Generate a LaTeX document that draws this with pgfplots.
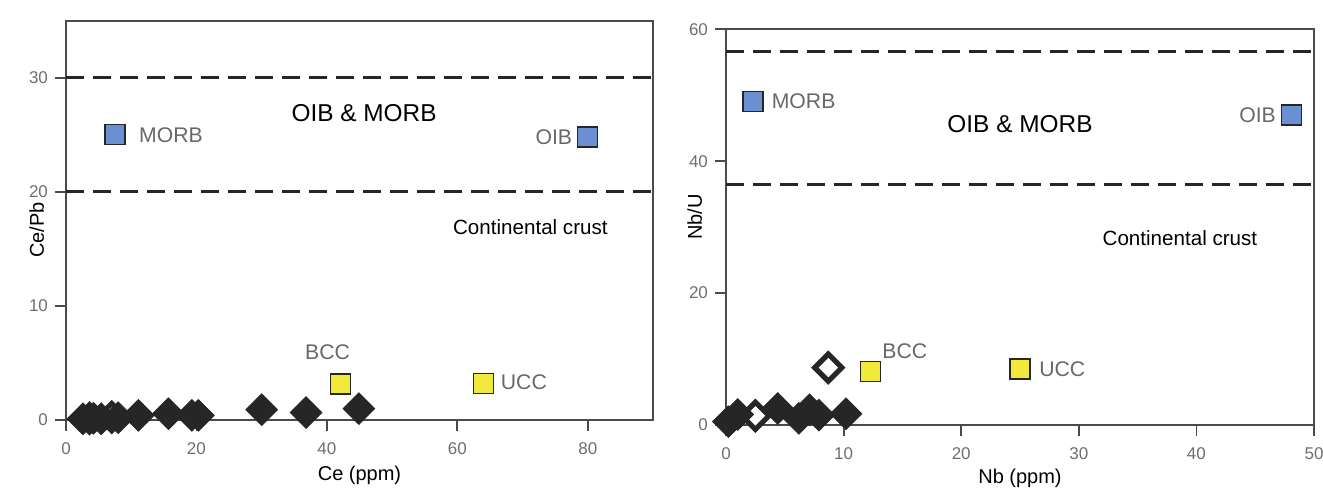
\documentclass[border=0pt]{standalone}
\usepackage{pgfplots}
\pgfplotsset{compat=1.18}
\usepackage{fontspec}
\setmainfont{Liberation Sans}
\definecolor{tickgray}{HTML}{6E6E6E}
\definecolor{lblgray}{HTML}{686868}
\definecolor{axgray}{HTML}{4A4A4A}
\definecolor{mblue}{HTML}{6A8FD2}
\definecolor{myellow}{HTML}{F2EA3A}
\definecolor{dk}{HTML}{262626}
\tikzset{
 glab/.style={font=\fontsize{10.6}{12}\selectfont, text=lblgray},
 blab/.style={font=\fontsize{12.2}{14}\selectfont, text=black},
 clab/.style={font=\fontsize{10.3}{12}\selectfont, text=black},
}
\pgfplotsset{
 mystyle/.style={
  scale only axis, clip=false,
  axis line style={axgray, line width=0.9pt},
  tick align=outside, xtick pos=bottom, ytick pos=left, major tick length=5.5pt,
  tick style={axgray, line width=0.9pt},
  /pgf/number format/assume math mode=true,
  ticklabel style={font=\fontsize{8.5}{10}\selectfont, text=tickgray},
  xticklabel style={yshift=-2.5pt},
  label style={font=\fontsize{10}{12}\selectfont, text=black},
 },
 dline/.style={dash pattern=on 9pt off 4.5pt, line width=1.5pt, color=dk, forget plot},
 bsq/.style={only marks, mark=square*, mark size=5pt, mark options={fill=mblue, draw=dk, line width=0.6pt}},
 ysq/.style={only marks, mark=square*, mark size=5pt, mark options={fill=myellow, draw=dk, line width=0.6pt}},
 fdia/.style={only marks, mark=square*, mark size=5.6pt, mark options={rotate=45, fill=dk, draw=dk, line width=0.4pt}},
 odia/.style={only marks, mark=square*, mark size=4.8pt, mark options={rotate=45, fill=white, draw=dk, line width=2.6pt}},
}
\begin{document}
\begin{tikzpicture}
\useasboundingbox (0,0) rectangle (661.5pt,249.5pt);
% ---------------- left panel ----------------
\begin{axis}[mystyle, at={(33pt,39.5pt)}, anchor=south west,
  width=293.5pt, height=199.7pt,
  xmin=0, xmax=90, ymin=0, ymax=35,
  xtick={0,20,40,60,80}, ytick={0,10,20,30},
  xlabel={Ce (ppm)}, ylabel={Ce/Pb},
  xlabel style={at={(axis description cs:0.5,-0.1377)}, anchor=center},
  ylabel style={at={(axis description cs:-0.05,0.476)}, anchor=center}]
\addplot[dline] coordinates {(0,30) (90,30)};
\addplot[dline] coordinates {(0,20) (90,20)};
\addplot[bsq] coordinates {(7.5,25) (80,24.8)};
\addplot[ysq] coordinates {(42.1,3.15) (64,3.2)};
\addplot[odia] coordinates {(3.6,0.15) (7.0,0.25)};
\addplot[fdia] coordinates {(2.6,0.1) (4.2,0.15) (5.4,0.1) (8.0,0.2) (11.1,0.4) (15.7,0.55) (19.3,0.4) (20.3,0.4) (30,0.9) (36.8,0.65) (44.9,1.0)};
\node[blab] at (axis cs:45.7,26.9) {OIB \& MORB};
\node[clab] at (axis cs:71.2,16.9) {Continental crust};
\node[glab] at (axis cs:16.1,25) {MORB};
\node[glab] at (axis cs:74.8,24.8) {OIB};
\node[glab] at (axis cs:40.1,5.9) {BCC};
\node[glab] at (axis cs:70.2,3.3) {UCC};
\end{axis}
% ---------------- right panel ----------------
\begin{axis}[mystyle, at={(363pt,37pt)}, anchor=south west,
  width=294pt, height=197.85pt,
  xmin=0, xmax=50, ymin=0, ymax=60,
  xtick={0,10,20,30,40,50}, ytick={0,20,40,60},
  xlabel={Nb (ppm)}, ylabel={Nb/U},
  xlabel style={at={(axis description cs:0.5,-0.134)}, anchor=center},
  ylabel style={at={(axis description cs:-0.053,0.526)}, anchor=center}]
\addplot[dline] coordinates {(0,56.6) (50,56.6)};
\addplot[dline] coordinates {(0,36.5) (50,36.5)};
\addplot[bsq] coordinates {(2.3,49.1) (48.1,47.0)};
\addplot[ysq] coordinates {(12.3,8.1) (25,8.5)};
\addplot[odia] coordinates {(2.5,1.4) (8.7,8.7)};
\addplot[fdia] coordinates {(0.2,0.5) (1.0,1.6) (4.4,2.5) (6.2,1.0) (7.1,2.3) (7.9,1.5) (10.2,1.7)};
\node[blab] at (axis cs:25.0,45.7) {OIB \& MORB};
\node[clab] at (axis cs:38.6,28.4) {Continental crust};
\node[glab] at (axis cs:6.6,49.1) {MORB};
\node[glab] at (axis cs:45.2,47.0) {OIB};
\node[glab] at (axis cs:15.2,11.2) {BCC};
\node[glab] at (axis cs:28.6,8.5) {UCC};
\end{axis}
\end{tikzpicture}
\end{document}
